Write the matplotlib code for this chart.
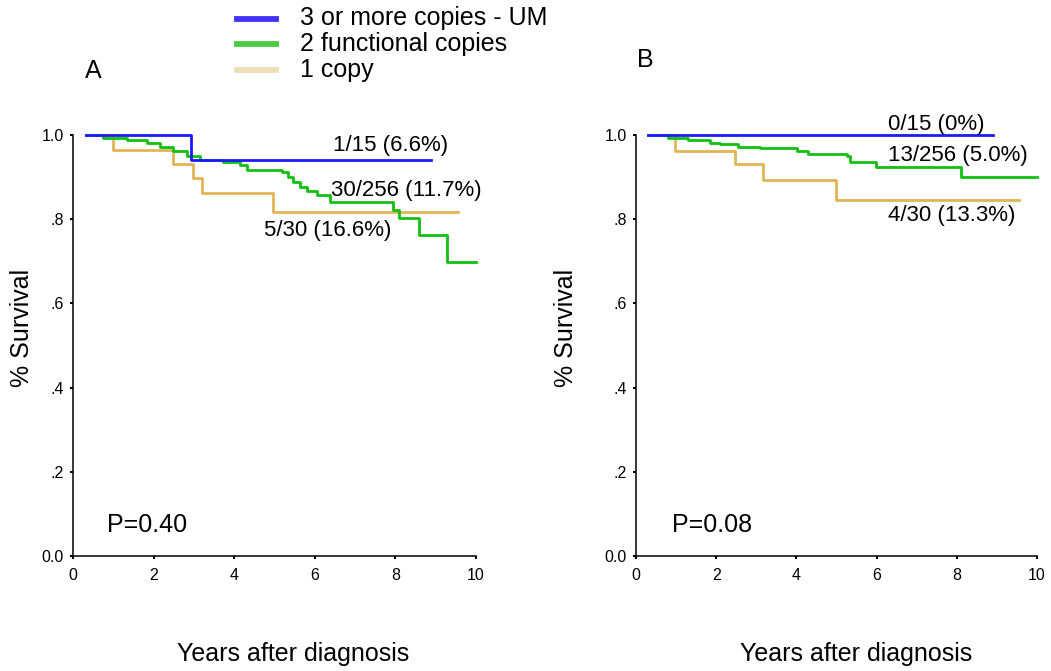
import matplotlib
matplotlib.use("Agg")
import matplotlib.pyplot as plt
from matplotlib.lines import Line2D

plt.rcParams['font.family'] = ['Liberation Sans', 'DejaVu Sans']

# ---- data ----
series_labels = ["3 or more copies - UM", "2 functional copies", "1 copy"]

# Panel A
a_blue_t = [0.32, 2.92, 8.88]
a_blue_s = [1.0, 0.941, 0.941]
a_green_t = [0.32, 0.75, 1.33, 1.83, 2.16, 2.49, 2.82, 3.15, 3.73, 4.14, 4.31, 5.18,
             5.34, 5.47, 5.63, 5.80, 6.05, 6.38, 7.95, 8.10, 8.59, 9.29, 10.0]
a_green_s = [1.0, 0.992, 0.987, 0.980, 0.972, 0.963, 0.950, 0.941, 0.935, 0.929, 0.918, 0.911,
             0.901, 0.889, 0.877, 0.868, 0.857, 0.842, 0.822, 0.804, 0.762, 0.699, 0.699]
a_tan_t = [0.32, 1.0, 2.49, 2.97, 3.21, 4.97, 9.55]
a_tan_s = [1.0, 0.964, 0.930, 0.897, 0.862, 0.817, 0.817]
a_notes = ["1/15 (6.6%)", "30/256 (11.7%)", "5/30 (16.6%)"]
a_p = "P=0.40"

# Panel B
b_blue_t = [0.31, 8.91]
b_blue_s = [1.0, 1.0]
b_green_t = [0.31, 0.81, 1.30, 1.85, 2.09, 2.55, 3.09, 4.01, 4.30, 5.25, 5.34, 5.99, 8.10, 9.99]
b_green_s = [1.0, 0.992, 0.988, 0.982, 0.979, 0.972, 0.968, 0.962, 0.954, 0.949, 0.935, 0.923, 0.900, 0.900]
b_tan_t = [0.31, 0.97, 2.47, 3.17, 4.99, 9.55]
b_tan_s = [1.0, 0.963, 0.931, 0.893, 0.846, 0.846]
b_notes = ["0/15 (0%)", "13/256 (5.0%)", "4/30 (13.3%)"]
b_p = "P=0.08"

x_ticks = [0, 2, 4, 6, 8, 10]
y_ticks = [0.0, 0.2, 0.4, 0.6, 0.8, 1.0]
y_ticklabels = ["0.0", ".2", ".4", ".6", ".8", "1.0"]

# ---- styles ----
c_blue, c_green, c_tan = "#1a1aff", "#11c011", "#e2b455"
leg_colors = ["#4433ff", "#4ccc44", "#eedfb8"]

W, H = 1051, 671
fig = plt.figure(figsize=(W / 100, H / 100), dpi=100)

def fx(px):
    return px / W

def fy(py):
    return 1 - py / H

axA = fig.add_axes([fx(73), fy(556), fx(476) - fx(73), fy(135) - fy(556)])
axB = fig.add_axes([fx(636), fy(556), fx(1037) - fx(636), fy(135) - fy(556)])

def panel(ax, bt, bs, gt, gs, tt, ts, notes, note_pos, ptxt, px):
    ax.step(tt, ts, where='post', color=c_tan, lw=2.0, clip_on=False, zorder=2)
    ax.step(gt, gs, where='post', color=c_green, lw=2.0, clip_on=False, zorder=3)
    ax.step(bt, bs, where='post', color=c_blue, lw=2.0, clip_on=False, zorder=4)
    ax.set_xlim(0, 10)
    ax.set_ylim(0, 1.0)
    ax.set_xticks(x_ticks)
    ax.set_yticks(y_ticks)
    ax.set_yticklabels(y_ticklabels)
    for s in ['top', 'right']:
        ax.spines[s].set_visible(False)
    for s in ['left', 'bottom']:
        ax.spines[s].set_linewidth(1.1)
    ax.tick_params(axis='both', length=2.5, width=1.5, labelsize=11.5, pad=4)
    ax.tick_params(axis='x', pad=6)
    for txt, (x, y) in zip(notes, note_pos):
        ax.text(x, y, txt, fontsize=16, va='baseline', ha='left')
    ax.text(px, 0.057, ptxt, fontsize=18, va='baseline', ha='left')

panel(axA, a_blue_t, a_blue_s, a_green_t, a_green_s, a_tan_t, a_tan_s,
      a_notes, [(6.45, 0.962), (6.39, 0.855), (4.74, 0.760)], a_p, 0.84)
panel(axB, b_blue_t, b_blue_s, b_green_t, b_green_s, b_tan_t, b_tan_s,
      b_notes, [(6.28, 1.012), (6.28, 0.938), (6.28, 0.796)], b_p, 0.90)

# axis labels
fig.text(fx(22), fy(328), "% Survival", rotation=90, fontsize=18, ha='center', va='center')
fig.text(fx(566), fy(328), "% Survival", rotation=90, fontsize=18, ha='center', va='center')
fig.text(fx(293), fy(661), "Years after diagnosis", fontsize=18, ha='center', va='baseline')
fig.text(fx(856), fy(661), "Years after diagnosis", fontsize=18, ha='center', va='baseline')

# panel letters
fig.text(fx(85), fy(78), "A", fontsize=18, ha='left', va='baseline')
fig.text(fx(637), fy(67), "B", fontsize=18, ha='left', va='baseline')

# legend
for i, (lab, col) in enumerate(zip(series_labels, leg_colors)):
    yc = [18.5, 44, 70][i]
    fig.add_artist(Line2D([fx(237), fx(276)], [fy(yc), fy(yc)], color=col, lw=4.2,
                          transform=fig.transFigure))
    fig.text(fx(300), fy(yc), lab, fontsize=18, ha='left', va='center')

fig.savefig("out.png", dpi=100)
